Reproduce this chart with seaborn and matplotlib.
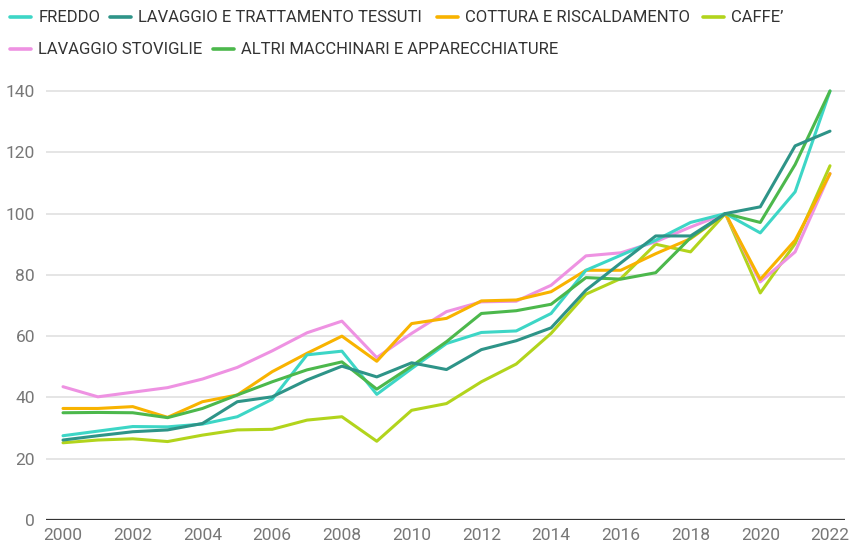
import matplotlib
matplotlib.use("Agg")
import matplotlib.pyplot as plt
import seaborn as sns
import pandas as pd
from matplotlib.lines import Line2D

years = list(range(2000, 2023))

freddo = [27.5, 29.0, 30.5, 30.4, 31.3, 33.7, 39.4, 53.9, 55.1, 41.0, 49.4, 57.6, 61.2, 61.7, 67.4,
          81.5, 86.4, 91.3, 97.1, 100.0, 93.7, 107.1, 140.0]
tessuti = [26.1, 27.5, 28.8, 29.4, 31.5, 38.6, 40.2, 45.7, 50.2, 46.7, 51.3, 49.1, 55.6, 58.5, 62.7,
           75.0, 83.9, 92.7, 92.7, 100.0, 102.2, 122.1, 126.9]
cottura = [36.4, 36.4, 37.0, 33.5, 38.6, 40.8, 48.4, 54.4, 60.0, 51.8, 64.1, 65.8, 71.5, 71.8, 74.5,
           81.5, 81.5, 86.9, 91.8, 100.0, 78.5, 91.3, 113.0]
caffe = [25.2, 26.1, 26.5, 25.6, 27.7, 29.4, 29.6, 32.6, 33.7, 25.7, 35.8, 38.0, 45.1, 50.9, 60.9,
         73.7, 78.8, 90.0, 87.5, 100.0, 74.1, 90.2, 115.6]
stoviglie = [43.5, 40.2, 41.7, 43.2, 46.0, 49.8, 55.2, 61.1, 64.9, 53.0, 60.9, 68.0, 71.2, 71.4, 76.6,
             86.2, 87.2, 90.8, 95.6, 100.0, 77.7, 87.5, 113.1]
altri = [35.0, 35.1, 35.0, 33.4, 36.4, 40.8, 45.1, 49.0, 51.6, 42.7, 50.2, 58.2, 67.4, 68.3, 70.4,
         79.1, 78.6, 80.7, 92.1, 100.0, 97.1, 116.0, 140.0]

series_names = ["FREDDO", "LAVAGGIO E TRATTAMENTO TESSUTI", "COTTURA E RISCALDAMENTO", "CAFFE’",
                "LAVAGGIO STOVIGLIE", "ALTRI MACCHINARI E APPARECCHIATURE"]
series_values = [freddo, tessuti, cottura, caffe, stoviglie, altri]
colors = ["#3DD6C6", "#2E9488", "#F8B300", "#B2D41C", "#EE92E2", "#4CB84C"]

x_ticks = list(range(2000, 2023, 2))
y_ticks = [0, 20, 40, 60, 80, 100, 120, 140]

rows = []
for name, vals in zip(series_names, series_values):
    for y, v in zip(years, vals):
        rows.append({"year": y, "value": v, "serie": name})
df = pd.DataFrame(rows)

sns.set_theme(style="white")
plt.rcParams["font.family"] = ["Roboto", "DejaVu Sans"]

fig = plt.figure(figsize=(8.52, 5.46), dpi=100)
W, H = 852, 546
left_px, right_px, top_px, bottom_px = 46, 845, 85, 520
ax = fig.add_axes([left_px / W, (H - bottom_px) / H, (right_px - left_px) / W, (bottom_px - top_px) / H])

palette = dict(zip(series_names, colors))
draw_order = ["CAFFE’", "LAVAGGIO STOVIGLIE", "COTTURA E RISCALDAMENTO", "FREDDO",
              "ALTRI MACCHINARI E APPARECCHIATURE", "LAVAGGIO E TRATTAMENTO TESSUTI"]
for name in draw_order:
    sub = df[df["serie"] == name]
    sns.lineplot(data=sub, x="year", y="value", color=palette[name], linewidth=2.2, ax=ax,
                 legend=False, clip_on=False, zorder=3)

x0 = 2000 - 17 / 34.86
x1 = 2022 + 15 / 34.86
ax.set_xlim(x0, x1)
ax.set_ylim(0, 140 * (bottom_px - top_px) / (bottom_px - 91))

ax.set_xticks(x_ticks)
ax.set_xticklabels([str(t) for t in x_ticks])
ax.set_yticks(y_ticks)
ax.set_yticklabels([str(t) for t in y_ticks])
ax.tick_params(axis="both", length=0, labelsize=12.5, colors="#777777")
ax.tick_params(axis="x", pad=6)
ax.tick_params(axis="y", pad=8)
ax.set_xlabel("")
ax.set_ylabel("")
for s in ax.spines.values():
    s.set_visible(False)
ax.yaxis.grid(True, color="#E0E0E0", linewidth=1.2, zorder=0)
ax.xaxis.grid(False)
ax.axhline(0, color="#333333", linewidth=1.6, zorder=2)
ax.set_axisbelow(True)

# legend: one entry per item, placed in a flowing two-row layout
legend_slots = [(10, 18), (110, 18), (437, 18), (703, 18), (10, 50), (213, 50)]
common = dict(frameon=False, fontsize=12, handlelength=1.25, handletextpad=0.45,
              borderaxespad=0, borderpad=0, labelcolor="#333333")
for name, (px, py) in zip(series_names, legend_slots):
    h = Line2D([0], [0], color=palette[name], linewidth=2.6)
    leg = fig.legend([h], [name], loc="center left",
                     bbox_to_anchor=(px / W, 1 - py / H), **common)

fig.savefig("out.png", dpi=100)
